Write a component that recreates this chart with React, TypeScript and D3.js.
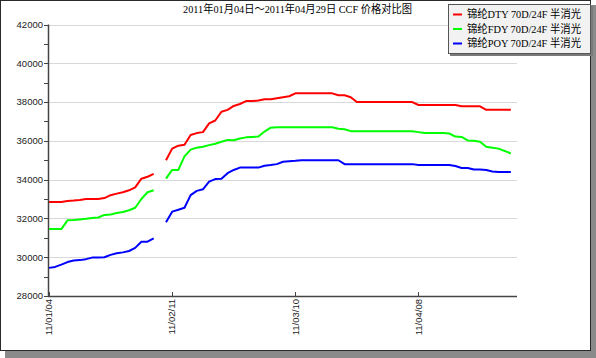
import React from "react";
import * as d3 from "d3";

const TITLE = "2011年01月04日～2011年04月29日 CCF 价格对比图";
const SERIES_NAMES = ["锦纶DTY 70D/24F 半消光", "锦纶FDY 70D/24F 半消光", "锦纶POY 70D/24F 半消光"];
const SERIES_COLORS = ["#ff0000", "#00ff00", "#0000ff"];
const X_TICK_INDEX = [0, 20, 40, 60];
const X_TICK_LABELS = ["11/01/04", "11/02/11", "11/03/10", "11/04/08"];
const Y_TICKS = [28000, 30000, 32000, 34000, 36000, 38000, 40000, 42000];
const Y_MINOR = [29000, 31000, 33000, 35000, 37000, 39000, 41000];

const DTY: (number | null)[] = [
  32850, 32850, 32850, 32900, 32920, 32950, 33000, 33000, 33000, 33050, 33200, 33280, 33350, 33450, 33600, 34050, 34150, 34300,
  null,
  35000, 35600, 35750, 35800, 36300, 36400, 36450, 36900, 37050, 37500, 37600, 37800, 37900, 38050, 38050, 38080, 38150, 38150, 38200, 38250,
  38300, 38450, 38450, 38450, 38450, 38450, 38450, 38450, 38350, 38350, 38250, 38000,
  38000, 38000, 38000, 38000, 38000, 38000, 38000, 38000, 38000,
  37850, 37850, 37850, 37850, 37850, 37850, 37850,
  37780, 37780, 37780, 37780,
  37600, 37600, 37600, 37600, 37600,
];
const FDY: (number | null)[] = [
  31450, 31450, 31450, 31900, 31920, 31950, 31980, 32020, 32050, 32180, 32200, 32280, 32330, 32420, 32550, 33000, 33350, 33450,
  null,
  34050, 34500, 34500, 35200, 35550, 35650, 35700, 35780, 35850, 35950, 36050, 36030, 36120, 36180, 36200, 36220, 36480, 36680, 36700,
  36700, 36700, 36700, 36700, 36700, 36700, 36700, 36700, 36700,
  36620, 36600,
  36500, 36500, 36500, 36500, 36500, 36500, 36500, 36500, 36500, 36500, 36500,
  36450, 36400, 36400, 36400, 36400, 36380, 36220, 36200, 36020, 36000, 35950, 35700, 35650, 35600, 35480, 35350,
];
const POY: (number | null)[] = [
  29450, 29500, 29620, 29750, 29830, 29850, 29900, 29980, 29980, 30000, 30120, 30200, 30250, 30320, 30480, 30800, 30800, 30970,
  null,
  31800, 32350, 32450, 32550, 33200, 33420, 33500, 33900, 34030, 34050, 34330, 34500, 34620, 34620, 34620, 34620, 34720, 34750, 34800, 34920, 34950, 34970,
  35000, 35000, 35000, 35000, 35000, 35000, 35000,
  34800, 34800, 34800, 34800, 34800, 34800, 34800, 34800, 34800, 34800, 34800, 34800,
  34750, 34750, 34750, 34750, 34750, 34750,
  34700, 34600, 34600, 34520, 34520, 34500, 34420, 34400, 34400, 34400,
];
const SERIES = [DTY, FDY, POY];

const W = 596;
const H = 358;
const PL = 49, PR = 517, PT = 24.5, PB = 296;

export default function App() {
  const x = d3.scaleLinear().domain([0, 76]).range([PL, PR]);
  const y = d3.scaleLinear().domain([28000, 42000]).range([PB, PT]);
  const line = d3
    .line<number | null>()
    .defined((d) => d !== null)
    .x((_, i) => x(i))
    .y((d) => y(d as number));

  const serif = "'Liberation Serif','Noto Sans CJK SC',serif";
  const sans = "'Liberation Sans',Arial,sans-serif";

  return (
    <svg
      width={W}
      height={H}
      style={{ position: "fixed", left: 0, top: 0, display: "block" }}
      xmlns="http://www.w3.org/2000/svg"
    >
      <rect x={0} y={0} width={W} height={H} fill="#ffffff" />
      {/* frame shadow */}
      <rect x={5} y={5} width={591} height={353} fill="#8a8a8a" />
      <rect x={0.5} y={0.5} width={590} height={350} fill="#ffffff" stroke="#2a2a2a" strokeWidth={1} />

      {/* title */}
      <text x={183} y={13} fontFamily={serif} fontSize={11} fill="#000" textLength={229} lengthAdjust="spacingAndGlyphs">
        {TITLE}
      </text>

      {/* grid lines */}
      {Y_TICKS.slice(1).map((v) => (
        <line key={"g" + v} x1={PL} x2={PR} y1={Math.round(y(v)) + 0.5} y2={Math.round(y(v)) + 0.5} stroke="#d8d8d8" strokeWidth={1} />
      ))}

      {/* y axis */}
      <line x1={PL - 0.5} x2={PL - 0.5} y1={PT} y2={PB + 0.5} stroke="#444" strokeWidth={1.5} />
      {[...Y_TICKS, ...Y_MINOR].map((v) => (
        <line key={"t" + v} x1={PL - 5} x2={PL} y1={Math.round(y(v)) + 0.5} y2={Math.round(y(v)) + 0.5} stroke="#444" strokeWidth={1} />
      ))}
      {Y_TICKS.map((v) => (
        <text key={"l" + v} x={43} y={y(v)} dy="0.35em" textAnchor="end" fontFamily={sans} fontSize={9.5} fill="#222">
          {v}
        </text>
      ))}

      {/* x axis */}
      <line x1={PL - 1} x2={PR} y1={PB + 0.5} y2={PB + 0.5} stroke="#444" strokeWidth={1.5} />
      {X_TICK_INDEX.map((t, i) => (
        <g key={"x" + t}>
          <line x1={Math.round(x(t)) + 0.5} x2={Math.round(x(t)) + 0.5} y1={PB - 4} y2={PB} stroke="#444" strokeWidth={1} />
          <text
            transform={`translate(${x(t)},${PB + 3}) rotate(-90)`}
            textAnchor="end"
            dy="0.35em"
            fontFamily={sans}
            fontSize={9.5}
            fill="#222"
          >
            {X_TICK_LABELS[i]}
          </text>
        </g>
      ))}

      {/* series */}
      {SERIES.map((s, i) => (
        <path key={"s" + i} d={line(s) || ""} fill="none" stroke={SERIES_COLORS[i]} strokeWidth={2} strokeLinejoin="round" />
      ))}

      {/* legend */}
      <rect x={450} y={6} width={143} height={50} fill="#7a7a7a" />
      <rect x={448.5} y={4.5} width={142} height={49} fill="#f2f2f2" stroke="#555" strokeWidth={1} />
      {SERIES_NAMES.map((n, i) => (
        <g key={"lg" + i}>
          <line x1={453} x2={462} y1={14.5 + i * 14.5} y2={14.5 + i * 14.5} stroke={SERIES_COLORS[i]} strokeWidth={2} />
          <text x={467} y={14.5 + i * 14.5} dy="0.36em" fontFamily={serif} fontSize={11} fill="#000" textLength={114} lengthAdjust="spacingAndGlyphs">
            {n}
          </text>
        </g>
      ))}
    </svg>
  );
}
